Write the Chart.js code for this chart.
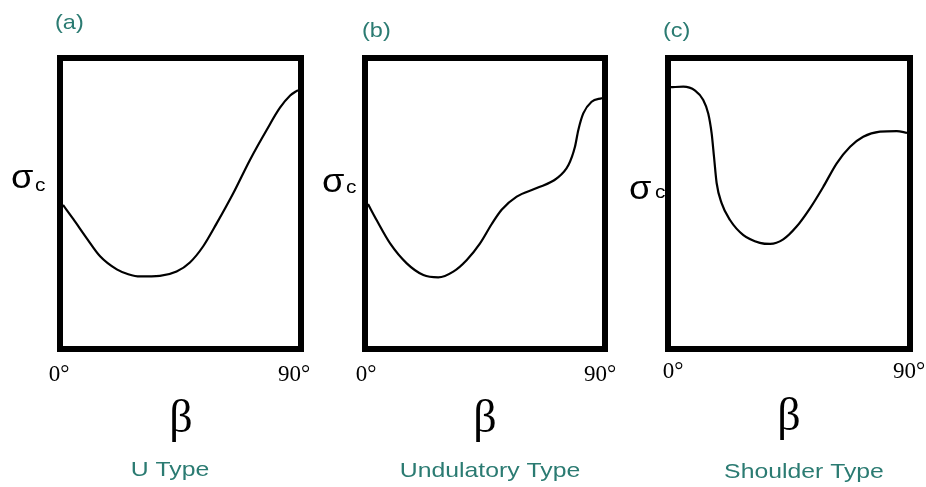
<!DOCTYPE html>
<html>
<head>
<meta charset="utf-8">
<script src="https://cdn.jsdelivr.net/npm/chart.js@4.4.1/dist/chart.umd.min.js"></script>
<style>
    html, body { margin: 0; padding: 0; background: #fff; }
    #wrap { position: relative; width: 926px; height: 487px; overflow: hidden; }
    #wrap canvas { position: absolute; left: 0; top: 0; }
</style>
</head>
<body>
<div id="wrap">
    <canvas id="chartA" width="926" height="487"></canvas>
    <canvas id="chartB" width="926" height="487"></canvas>
    <canvas id="chartC" width="926" height="487"></canvas>
</div>
<script>
// beta (degrees) vs. relative compressive strength, one pair per curve type
const betaA = [0, 3.9, 9.1, 14.2, 20.6, 25, 29.5, 37.1, 43.5, 48.6, 53.7, 58.9, 65.2, 71.6, 78, 83.1, 87, 90];
const sigmaA = [49.5, 44.6, 37.8, 31.5, 26.9, 25.2, 24.4, 24.6, 26.1, 29.3, 35, 43.1, 53.6, 65.3, 75.8, 83.6, 87.9, 89.8];

const betaB = [0, 3.3, 8.5, 14.9, 21.3, 27, 32.8, 38, 43.1, 47.6, 51.4, 57.2, 64.9, 72.6, 77.1, 79.6, 80.9, 82.8, 86, 90];
const sigmaB = [49.8, 44.2, 36, 29, 24.9, 24.1, 26.1, 30.2, 36, 42.8, 47.8, 52.4, 55.4, 58.8, 63.5, 69.9, 75.8, 81.6, 85.7, 87];

const betaC = [0, 4.7, 9.2, 12.3, 14.2, 15.5, 16.4, 17.4, 19.3, 22.5, 27.6, 33.9, 37.8, 42.8, 47.9, 53, 58.1, 63.2, 68.3, 73.3, 79.7, 86.1, 90];
const sigmaC = [90.8, 91, 89.6, 86.3, 81.6, 74.6, 66.4, 57.2, 50.1, 44.2, 38.9, 36.2, 35.8, 37.4, 41.9, 48.3, 55.9, 64.1, 69.9, 73.4, 75.2, 75.4, 74.8];

const tickValues = [0, 90];
const tickLabels = ['0°', '90°'];
const panelLetters = ['(a)', '(b)', '(c)'];
const typeNames = ['U Type', 'Undulatory Type', 'Shoulder Type'];

const TEAL = '#2b7b72';
const PAGE_W = 926;
const PAGE_H = 487;

// where each framed plot sits on the page and where its labels go
const panelLayout = [
    {
        canvas: 'chartA', area: { left: 63, top: 61, right: 298, bottom: 346 }, tickPad: 15, labelOffset: -4,
        letter: { x: 55, y: 23 }, sigma: { x: 11, y: 188, cx: 35, cy: 191 },
        beta: { x: 181, y: 432 }, type: { x: 170, y: 476 },
    },
    {
        canvas: 'chartB', area: { left: 368, top: 61, right: 602, bottom: 346 }, tickPad: 15, labelOffset: -2,
        letter: { x: 362, y: 31 }, sigma: { x: 322, y: 192, cx: 346, cy: 193 },
        beta: { x: 485, y: 432 }, type: { x: 490, y: 477 },
    },
    {
        canvas: 'chartC', area: { left: 671, top: 61, right: 907, bottom: 346 }, tickPad: 12, labelOffset: 2,
        letter: { x: 663, y: 31 }, sigma: { x: 629, y: 199, cx: 655, cy: 198 },
        beta: { x: 789, y: 430 }, type: { x: 804, y: 478 },
    },
];

const series = [
    { beta: betaA, sigma: sigmaA },
    { beta: betaB, sigma: sigmaB },
    { beta: betaC, sigma: sigmaC },
];

const drawText = (ctx, text, x, y, opts) => {
    ctx.save();
    ctx.font = opts.font;
    ctx.fillStyle = opts.color || '#000';
    ctx.textAlign = opts.align || 'left';
    ctx.textBaseline = opts.baseline || 'alphabetic';
    ctx.translate(x, y);
    ctx.scale(opts.sx || 1, 1);
    ctx.fillText(text, 0, 0);
    ctx.restore();
};

// thick black box around the plot area
const framePlugin = {
    id: 'frame',
    afterDatasetsDraw(chart) {
        const { ctx, chartArea } = chart;
        ctx.save();
        ctx.strokeStyle = '#000';
        ctx.lineWidth = 6;
        ctx.strokeRect(chartArea.left - 3, chartArea.top - 3,
            chartArea.right - chartArea.left + 6, chartArea.bottom - chartArea.top + 6);
        ctx.restore();
    },
};

// panel letter, sigma_c, beta and the curve type name
const labelPlugin = {
    id: 'panelLabels',
    afterDraw(chart, args, opts) {
        const { ctx } = chart;
        const p = opts.layout;
        drawText(ctx, opts.letter, p.letter.x, p.letter.y, {
            font: '21px "Liberation Sans", Arial, sans-serif', color: TEAL, baseline: 'middle', sx: 1.12,
        });
        drawText(ctx, 'σ', p.sigma.x, p.sigma.y, {
            font: '33px "Liberation Sans", Arial, sans-serif', sx: 1.1,
        });
        drawText(ctx, 'c', p.sigma.cx, p.sigma.cy, {
            font: '19px "Liberation Sans", Arial, sans-serif', sx: 1.1,
        });
        drawText(ctx, 'β', p.beta.x, p.beta.y, {
            font: '46px "Liberation Serif", "Times New Roman", serif', align: 'center',
        });
        drawText(ctx, opts.typeName, p.type.x, p.type.y, {
            font: '21px "Liberation Sans", Arial, sans-serif', color: TEAL, align: 'center', sx: 1.18,
        });
    },
};

panelLayout.forEach((p, i) => {
    const canvas = document.getElementById(p.canvas);
    const points = series[i].beta.map((b, k) => ({ x: b, y: series[i].sigma[k] }));
    const axisHeight = PAGE_H - p.area.bottom;

    new Chart(canvas, {
        type: 'line',
        data: {
            datasets: [{
                data: points,
                borderColor: '#000',
                borderWidth: 2.2,
                pointRadius: 0,
                cubicInterpolationMode: 'monotone',
                fill: false,
            }],
        },
        options: {
            responsive: false,
            animation: false,
            devicePixelRatio: 1,
            layout: {
                padding: {
                    left: p.area.left,
                    top: p.area.top,
                    right: PAGE_W - p.area.right,
                    bottom: 0,
                },
            },
            plugins: {
                legend: { display: false },
                tooltip: { enabled: false },
                panelLabels: { layout: p, letter: panelLetters[i], typeName: typeNames[i] },
            },
            scales: {
                x: {
                    type: 'linear',
                    min: 0,
                    max: 90,
                    afterBuildTicks: (scale) => {
                        scale.ticks = tickValues.map((v) => ({ value: v }));
                    },
                    afterFit: (scale) => {
                        // the axis fills everything below the box
                        scale.height = axisHeight;
                        scale.paddingLeft = 0;
                        scale.paddingRight = 0;
                    },
                    ticks: {
                        autoSkip: false,
                        maxRotation: 0,
                        padding: p.tickPad,
                        labelOffset: p.labelOffset,
                        color: '#000',
                        font: { family: '"Liberation Serif", "Times New Roman", serif', size: 23 },
                        callback: (value) => tickLabels[tickValues.indexOf(value)],
                    },
                    grid: { display: false, drawTicks: false },
                    border: { display: false },
                },
                y: {
                    min: 0,
                    max: 100,
                    display: false,
                },
            },
        },
        plugins: [framePlugin, labelPlugin],
    });
});
</script>
</body>
</html>
